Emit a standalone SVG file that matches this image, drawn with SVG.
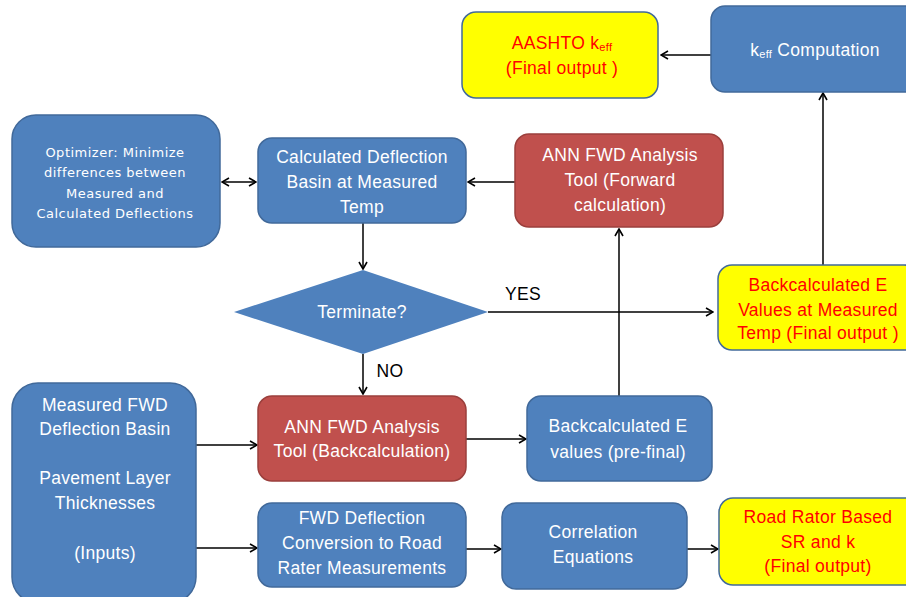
<svg xmlns="http://www.w3.org/2000/svg" width="906" height="597" viewBox="0 0 906 597">
<style>
.blue{fill:#4F81BD;stroke:#41699A;stroke-width:1.5}
.red{fill:#C0504D;stroke:#9B3F3C;stroke-width:1.5}
.yel{fill:#FFFF00;stroke:#41699A;stroke-width:1.5}
text{font-family:"Liberation Sans",Arial,sans-serif;font-size:17.5px;letter-spacing:0.3px;text-anchor:middle;dominant-baseline:central}
.w{fill:#FFFFFF}
.r{fill:#FF0000}
.k{fill:#000000}
.sm{font-family:"DejaVu Sans",sans-serif;font-size:13px;letter-spacing:0.5px}
.con{stroke:#000;stroke-width:1.5;fill:none}
</style>
<defs>
<marker id="ah" viewBox="0 0 10 10" refX="9" refY="5" markerWidth="10" markerHeight="10" markerUnits="userSpaceOnUse" orient="auto-start-reverse">
<path d="M2,1 L9,5 L2,9" fill="none" stroke="#000" stroke-width="1.6"/>
</marker>
</defs>

<g id="connectors">
<line class="con" x1="711" y1="55" x2="661" y2="55" marker-end="url(#ah)"/>
<line class="con" x1="222" y1="182" x2="256" y2="182" marker-start="url(#ah)" marker-end="url(#ah)"/>
<line class="con" x1="515" y1="182" x2="468" y2="182" marker-end="url(#ah)"/>
<line class="con" x1="363" y1="223" x2="363" y2="269" marker-end="url(#ah)"/>
<line class="con" x1="488" y1="312" x2="713" y2="312" marker-end="url(#ah)"/>
<line class="con" x1="363" y1="354" x2="363" y2="394" marker-end="url(#ah)"/>
<line class="con" x1="619" y1="396" x2="619" y2="229" marker-end="url(#ah)"/>
<line class="con" x1="823" y1="265" x2="823" y2="93" marker-end="url(#ah)"/>
<line class="con" x1="196" y1="445" x2="257" y2="445" marker-end="url(#ah)"/>
<line class="con" x1="466" y1="439" x2="526" y2="439" marker-end="url(#ah)"/>
<line class="con" x1="196" y1="548" x2="257" y2="548" marker-end="url(#ah)"/>
<line class="con" x1="466" y1="549" x2="501" y2="549" marker-end="url(#ah)"/>
<line class="con" x1="687" y1="549" x2="718" y2="549" marker-end="url(#ah)"/>
<text class="k" x="523" y="294">YES</text>
<text class="k" x="390" y="371">NO</text>
</g>

<g id="aashto">
<rect class="yel" x="462" y="12" width="196" height="86" rx="14"/>
<text class="r" x="562" y="43">AASHTO k<tspan font-size="11" dy="4">eff</tspan></text>
<text class="r" x="562" y="68">(Final output )</text>
</g>

<g id="keff">
<rect class="blue" x="711" y="6" width="210" height="86" rx="14"/>
<text class="w" x="815" y="50">k<tspan font-size="11" dy="4">eff</tspan><tspan dy="-4"> Computation</tspan></text>
</g>

<g id="optimizer">
<rect class="blue" x="12" y="115" width="208" height="132" rx="24"/>
<text class="w sm" x="115" y="152">Optimizer: Minimize</text>
<text class="w sm" x="115" y="172">differences between</text>
<text class="w sm" x="115" y="193">Measured and</text>
<text class="w sm" x="115" y="213">Calculated Deflections</text>
</g>

<g id="calculated">
<rect class="blue" x="258" y="138" width="208" height="85" rx="14"/>
<text class="w" x="362" y="157">Calculated Deflection</text>
<text class="w" x="362" y="182">Basin at Measured</text>
<text class="w" x="362" y="207">Temp</text>
</g>

<g id="ann-forward">
<rect class="red" x="515" y="134" width="208" height="93" rx="14"/>
<text class="w" x="620" y="155">ANN FWD Analysis</text>
<text class="w" x="620" y="180">Tool (Forward</text>
<text class="w" x="620" y="205">calculation)</text>
</g>

<g id="terminate">
<polygon fill="#4F81BD" points="363,270 488,312 363,354 234,312"/>
<text class="w" x="362" y="312">Terminate?</text>
</g>

<g id="backcalc-final">
<rect class="yel" x="718" y="265" width="200" height="85" rx="14"/>
<text class="r" x="818" y="285">Backcalculated E</text>
<text class="r" x="818" y="310">Values at Measured</text>
<text class="r" x="818" y="333">Temp (Final output )</text>
</g>

<g id="inputs">
<rect class="blue" x="12" y="383" width="184" height="220" rx="26"/>
<text class="w" x="105" y="405">Measured FWD</text>
<text class="w" x="105" y="429">Deflection Basin</text>
<text class="w" x="105" y="478">Pavement Layer</text>
<text class="w" x="105" y="503">Thicknesses</text>
<text class="w" x="105" y="553">(Inputs)</text>
</g>

<g id="ann-backcalc">
<rect class="red" x="258" y="396" width="208" height="85" rx="14"/>
<text class="w" x="362" y="427">ANN FWD Analysis</text>
<text class="w" x="362" y="451">Tool (Backcalculation)</text>
</g>

<g id="backcalc-prefinal">
<rect class="blue" x="527" y="396" width="185" height="85" rx="14"/>
<text class="w" x="618" y="426">Backcalculated E</text>
<text class="w" x="618" y="452">values (pre-final)</text>
</g>

<g id="fwd-conversion">
<rect class="blue" x="258" y="503" width="208" height="84" rx="14"/>
<text class="w" x="362" y="518">FWD Deflection</text>
<text class="w" x="362" y="543">Conversion to Road</text>
<text class="w" x="362" y="568">Rater Measurements</text>
</g>

<g id="correlation">
<rect class="blue" x="502" y="503" width="185" height="86" rx="14"/>
<text class="w" x="593" y="532">Correlation</text>
<text class="w" x="593" y="557">Equations</text>
</g>

<g id="road-rator">
<rect class="yel" x="719" y="498" width="200" height="87" rx="14"/>
<text class="r" x="818" y="517">Road Rator Based</text>
<text class="r" x="818" y="542">SR and k</text>
<text class="r" x="818" y="566">(Final output)</text>
</g>
</svg>
